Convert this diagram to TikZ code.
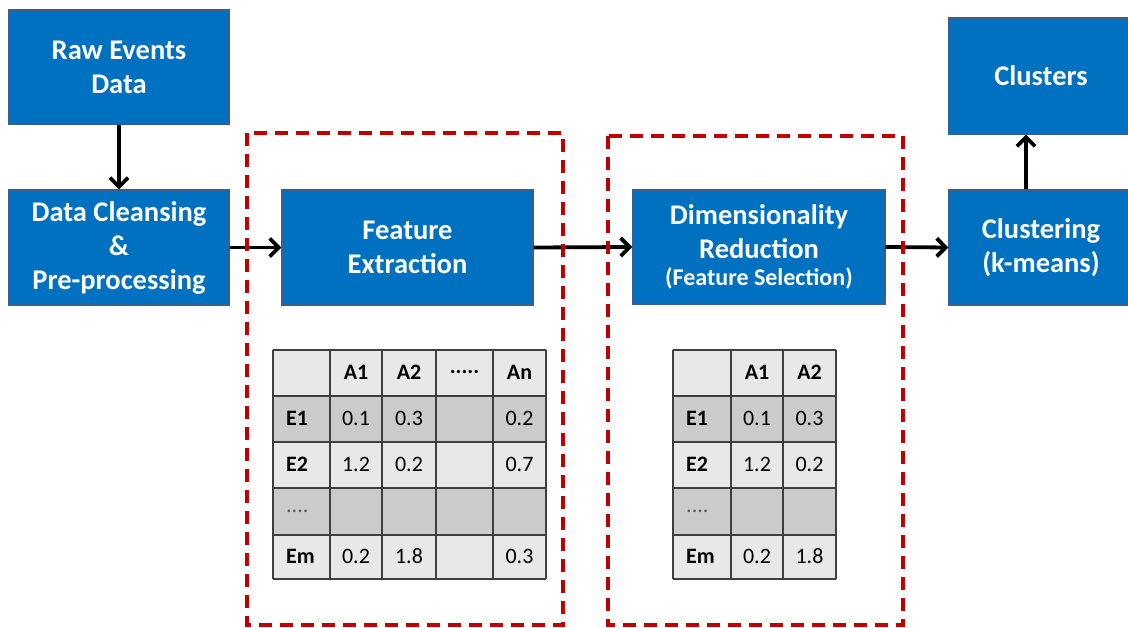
\documentclass[tikz,border=0pt]{standalone}
\usepackage{fontspec}
\setmainfont{Carlito}
\usetikzlibrary{arrows.meta}
\definecolor{boxblue}{HTML}{0070C0}
\definecolor{boxedge}{HTML}{3A5F8F}
\definecolor{dashred}{HTML}{C00000}
\definecolor{celllight}{HTML}{E8E8E8}
\definecolor{celldark}{HTML}{CBCBCB}
\definecolor{gridline}{HTML}{3F3F3F}
\definecolor{dotgray}{HTML}{595959}
\tikzset{
  stage/.style={draw=boxedge, line width=1.2pt, fill=boxblue, text=white,
    font=\fontsize{28.5}{34}\selectfont\bfseries, align=center, inner sep=0pt},
  flow/.style={line width=3.8pt, -{Straight Barb[length=9pt,width=18pt,line width=3.8pt]}},
  group/.style={draw=dashred, line width=3.2pt, dash pattern=on 13pt off 8pt},
  cellbox/.style={draw=gridline, line width=1.4pt},
  celltext/.style={font=\fontsize{22}{26}\selectfont, inner sep=0pt},
  cellhead/.style={celltext, font=\fontsize{22}{26}\selectfont\bfseries},
}
\begin{document}
\begin{tikzpicture}[x=1pt,y=-1pt]
\clip (0,0) rectangle (1128,628);
\fill[white] (0,0) rectangle (1128,628);

% processing stages
\node[stage, minimum width=220pt, minimum height=114pt] (raw) at (119,67) {Raw Events\\Data};
\node[stage, minimum width=220pt, minimum height=115pt] (clean) at (119,247.5) {Data Cleansing\\\&\\Pre-processing};
\node[stage, minimum width=251pt, minimum height=115pt] (feat) at (407.5,247.5) {Feature\\Extraction};
\node[stage, minimum width=252pt, minimum height=114pt] (dimred) at (759,247) {\raisebox{-6pt}{Dimensionality}\\\raisebox{-6pt}{Reduction}\\[-1pt]{\fontsize{24}{26}\selectfont(Feature Selection)}};
\node[stage, minimum width=184pt, minimum height=115pt] (clust) at (1041,247.5) {Clustering\\(k-means)};
\node[stage, minimum width=184pt, minimum height=116pt] (clusters) at (1041,76) {Clusters};

% flow arrows
\draw[flow] (raw.south) -- (clean.north);
\draw[flow] (clean.east) -- (feat.west);
\draw[flow] (feat.east) -- (dimred.west);
\draw[flow] (dimred.east) -- (clust.west);
\draw[flow] (clust.north -| 1026,0) -- (clusters.south -| 1026,0);

% table backgrounds: alternating row shades
\foreach \y [count=\r] in {350,396,442,488,535} {
  \pgfmathsetmacro{\ylow}{{350,396,442,488,535,579}[\r]}
  \ifodd\r \def\cf{celllight}\else\def\cf{celldark}\fi
  \fill[\cf] (273,\y) rectangle (546,\ylow);
  \fill[\cf] (673,\y) rectangle (836,\ylow);
}
% table grids
\foreach \x in {273,330,382,436,493,546} \draw[cellbox] (\x,350) -- (\x,579);
\foreach \y in {350,396,442,488,535,579} \draw[cellbox] (273,\y) -- (546,\y);
\foreach \x in {673,731,783,836} \draw[cellbox] (\x,350) -- (\x,579);
\foreach \y in {350,396,442,488,535,579} \draw[cellbox] (673,\y) -- (836,\y);

% table one contents
\node[cellhead] (ta-h1) at (356,372) {A1};
\node[cellhead] (ta-h2) at (409,372) {A2};
\node[cellhead] (ta-h3) at (464.5,372) {.....};
\node[cellhead] (ta-h4) at (519.5,372) {An};
\node[cellhead, anchor=west] (ta-r1) at (286,418) {E1};
\node[cellhead, anchor=west] (ta-r2) at (286,464) {E2};
\node[celltext, anchor=west, text=dotgray] (ta-r3) at (286,511) {....};
\node[cellhead, anchor=west] (ta-r4) at (286,556) {Em};
\node[celltext] (ta-11) at (356,418) {0.1};
\node[celltext] (ta-12) at (409,418) {0.3};
\node[celltext] (ta-14) at (519.5,418) {0.2};
\node[celltext] (ta-21) at (356,464) {1.2};
\node[celltext] (ta-22) at (409,464) {0.2};
\node[celltext] (ta-24) at (519.5,464) {0.7};
\node[celltext] (ta-41) at (356,556) {0.2};
\node[celltext] (ta-42) at (409,556) {1.8};
\node[celltext] (ta-44) at (519.5,556) {0.3};

% table two contents
\node[cellhead] (tb-h1) at (757,372) {A1};
\node[cellhead] (tb-h2) at (809.5,372) {A2};
\node[cellhead, anchor=west] (tb-r1) at (686,418) {E1};
\node[cellhead, anchor=west] (tb-r2) at (686,464) {E2};
\node[celltext, anchor=west, text=dotgray] (tb-r3) at (686,511) {....};
\node[cellhead, anchor=west] (tb-r4) at (686,556) {Em};
\node[celltext] (tb-11) at (757,418) {0.1};
\node[celltext] (tb-12) at (809.5,418) {0.3};
\node[celltext] (tb-21) at (757,464) {1.2};
\node[celltext] (tb-22) at (809.5,464) {0.2};
\node[celltext] (tb-41) at (757,556) {0.2};
\node[celltext] (tb-42) at (809.5,556) {1.8};

% dashed groupings
\draw[group] (247,133) rectangle (563,625);
\draw[group] (608,136) rectangle (903,625);
\end{tikzpicture}
\end{document}
